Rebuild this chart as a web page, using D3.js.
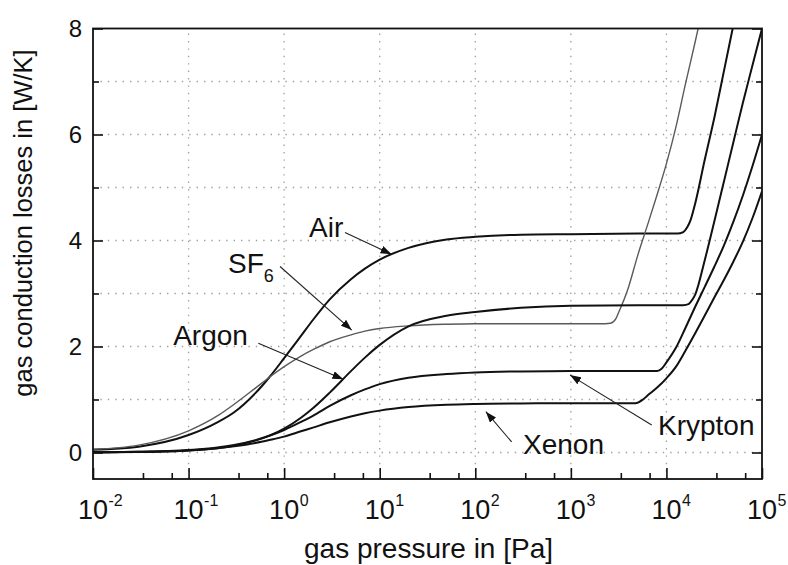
<!DOCTYPE html>
<html>
<head>
<meta charset="utf-8">
<script src="https://cdn.jsdelivr.net/npm/d3@7"></script>
<style>
  body { margin: 0; background: #fff; }
  text { font-family: "Liberation Sans", Arial, Helvetica, sans-serif; fill: #111; }
</style>
</head>
<body>
<svg id="chart" width="788" height="565"></svg>
<script>
// Gas conduction losses [W/K] versus gas pressure [Pa], one curve per fill gas.
// Pressures sampled in the free-molecular / transition range (shared by all gases)
const lowP = [0.01,0.03,0.1,0.2,0.3,0.5,0.7,1,1.5,2,3,5,7,10,20,50,100,300,1000];

const airLow     = [0.05,0.11,0.33,0.57,0.76,1.12,1.42,1.78,2.2,2.5,2.89,3.27,3.47,3.64,3.86,4.02,4.07,4.11,4.12];
const sf6Low     = [0.06,0.14,0.41,0.69,0.91,1.215,1.42,1.62,1.82,1.94,2.09,2.22,2.29,2.34,2.39,2.42,2.43,2.43,2.43];
const argonLow   = [0.003,0.01,0.038,0.082,0.129,0.224,0.317,0.451,0.656,0.835,1.13,1.535,1.79,2.03,2.38,2.58,2.65,2.73,2.77];
const kryptonLow = [0.004,0.012,0.045,0.094,0.143,0.233,0.316,0.425,0.576,0.693,0.88,1.08,1.19,1.29,1.41,1.48,1.51,1.53,1.54];
const xenonLow   = [0.004,0.012,0.04,0.079,0.117,0.18,0.235,0.30,0.40,0.47,0.57,0.68,0.74,0.79,0.857,0.90,0.915,0.925,0.93];

// High-pressure (continuum / convection) branches
const airHighP     = [5000,13000,15000,16500,18000,20000,25000,32000,40000,50000];
const airHighV     = [4.13,4.13,4.16,4.25,4.4,4.7,5.5,6.35,7.2,8.05];
const sf6HighP     = [2000,2600,2950,3160,3980,5010,6310,7940,10000,12600,15800,20000,22400];
const sf6HighV     = [2.43,2.44,2.52,2.64,3.1,3.72,4.28,4.85,5.45,6.15,6.95,7.75,8.15];
const argonHighP   = [5000,15000,17000,18600,20000,25100,31600,39800,50100,63100,79400,100000];
const argonHighV   = [2.78,2.78,2.80,2.88,2.98,3.62,4.35,5.1,5.85,6.6,7.3,8.0];
const kryptonHighP = [5000,8000,8900,10000,12600,15800,20000,25100,31600,39800,50100,63100,79400,100000];
const kryptonHighV = [1.54,1.54,1.58,1.70,1.98,2.35,2.75,3.12,3.5,3.9,4.35,4.85,5.4,6.0];
const xenonHighP   = [4500,5000,5600,6300,7940,10000,12600,15800,20000,25100,31600,39800,50100,63100,79400,100000];
const xenonHighV   = [0.93,0.94,0.99,1.07,1.22,1.40,1.62,1.92,2.25,2.58,2.92,3.25,3.6,3.98,4.42,4.93];

// Axis ticks
const xDecades = [1e-2,1e-1,1e0,1e1,1e2,1e3,1e4,1e5];
const xExponents = [-2,-1,0,1,2,3,4,5];
const xMinor = [];
xDecades.slice(0, -1).forEach(d => { xMinor.push(d * 10 / 3, d * 20 / 3); });
const yMajor = [0,2,4,6,8];
const yMinor = [1,3,5,7];
const yGrid = [0,1,2,3,4,5,6,7];

// Curve labels with arrows, in data units: label anchor, arrow start, arrow tip
const notes = [
  { text: "Air",     sub: null, at: [1.82, 4.07],  from: [4.33, 4.15],  to: [13.3, 3.74] },
  { text: "SF",      sub: "6",  at: [0.259, 3.39], from: [0.906, 3.51], to: [5.09, 2.31] },
  { text: "Argon",   sub: null, at: [0.069, 2.03], from: [0.537, 2.06], to: [4.16, 1.38] },
  { text: "Xenon",   sub: null, at: [316, -0.03],  from: [240, 0.20],   to: [129, 0.77] },
  { text: "Krypton", sub: null, at: [8160, 0.33],  from: [7015, 0.52],  to: [980, 1.46] }
];

const series = [
  { p: lowP.concat(airHighP),     v: airLow.concat(airHighV),         color: "#111",    width: 2.0 },
  { p: lowP.concat(sf6HighP),     v: sf6Low.concat(sf6HighV),         color: "#5a5a5a", width: 1.4 },
  { p: lowP.concat(argonHighP),   v: argonLow.concat(argonHighV),     color: "#111",    width: 2.0 },
  { p: lowP.concat(kryptonHighP), v: kryptonLow.concat(kryptonHighV), color: "#111",    width: 2.0 },
  { p: lowP.concat(xenonHighP),   v: xenonLow.concat(xenonHighV),     color: "#111",    width: 2.0 }
];

const svg = d3.select("#chart");
const L = 93, R = 762, T = 28.5, B = 479;

const x = d3.scaleLog().domain([1e-2, 1e5]).range([L, R]);
const y = d3.scaleLinear().domain([-0.5, 8]).range([B, T]);

const defs = svg.append("defs");
defs.append("clipPath").attr("id", "plot")
  .append("rect").attr("x", L).attr("y", T).attr("width", R - L).attr("height", B - T);
defs.append("marker").attr("id", "head")
  .attr("markerUnits", "userSpaceOnUse")
  .attr("markerWidth", 12).attr("markerHeight", 8)
  .attr("refX", 11).attr("refY", 4).attr("orient", "auto")
  .append("path").attr("d", "M0,0 L11,4 L0,8 Z").attr("fill", "#111");

// Dotted grid
const grid = svg.append("g").attr("stroke", "#9aa39a").attr("stroke-width", 1.3)
  .attr("stroke-dasharray", "1.4,6").attr("fill", "none");
grid.selectAll("line.v").data(xDecades.slice(1, -1)).join("line")
  .attr("x1", d => x(d)).attr("x2", d => x(d)).attr("y1", B).attr("y2", T);
grid.selectAll("line.h").data(yGrid).join("line")
  .attr("x1", L).attr("x2", R).attr("y1", d => y(d)).attr("y2", d => y(d));

// Curves
const line = d3.line().x(d => x(d[0])).y(d => y(d[1])).curve(d3.curveMonotoneX);
const curves = svg.append("g").attr("clip-path", "url(#plot)").attr("fill", "none");
series.forEach(s => {
  curves.append("path")
    .attr("d", line(s.p.map((p, i) => [p, s.v[i]])))
    .attr("stroke", s.color).attr("stroke-width", s.width)
    .attr("stroke-linejoin", "round");
});

// Inward ticks via d3 axes
function styleAxis(g) {
  g.select(".domain").remove();
  g.selectAll(".tick line").attr("stroke", "#111").attr("stroke-width", 1.6);
}
svg.append("g").attr("transform", `translate(0,${B})`)
  .call(d3.axisBottom(x).tickValues(xDecades).tickSize(-11).tickFormat(""))
  .call(styleAxis);
svg.append("g").attr("transform", `translate(0,${B})`)
  .call(d3.axisBottom(x).tickValues(xMinor).tickSize(-6).tickFormat(""))
  .call(styleAxis);

const yAxis = svg.append("g").attr("transform", `translate(${L},0)`)
  .call(d3.axisLeft(y).tickValues(yMajor).tickSize(-10).tickPadding(11).tickFormat(d3.format("d")))
  .call(styleAxis);
yAxis.selectAll(".tick text").attr("font-size", 24).attr("fill", "#111")
  .style("font-family", '"Liberation Sans", Arial, sans-serif');
svg.append("g").attr("transform", `translate(${L},0)`)
  .call(d3.axisLeft(y).tickValues(yMinor).tickSize(-6).tickFormat(""))
  .call(styleAxis);
svg.append("g").attr("transform", `translate(${R},0)`)
  .call(d3.axisRight(y).tickValues(yMajor).tickSize(-10).tickFormat(""))
  .call(styleAxis);
svg.append("g").attr("transform", `translate(${R},0)`)
  .call(d3.axisRight(y).tickValues(yMinor).tickSize(-6).tickFormat(""))
  .call(styleAxis);

// Frame
svg.append("rect").attr("x", L).attr("y", T).attr("width", R - L).attr("height", B - T)
  .attr("fill", "none").attr("stroke", "#111").attr("stroke-width", 1.8);

// Decade labels 10^n
const xl = svg.append("g");
xDecades.forEach((d, i) => {
  const base = xl.append("text").attr("font-size", 27).attr("y", 519).text("10");
  const w = base.node().getComputedTextLength();
  base.attr("x", x(d) - w / 2);
  xl.append("text").attr("font-size", 16).attr("x", x(d) + w / 2 + 0.5).attr("y", 506)
    .text(String(xExponents[i]));
});

// Axis titles
svg.append("text").attr("x", (L + R) / 2 + 1).attr("y", 558).attr("text-anchor", "middle")
  .attr("font-size", 28).text("gas pressure in [Pa]");
svg.append("text").attr("transform", "translate(32,223) rotate(-90)").attr("text-anchor", "middle")
  .attr("font-size", 25.5).text("gas conduction losses in [W/K]");

// Curve labels and arrows
const ann = svg.append("g");
notes.forEach(n => {
  const t = ann.append("text").attr("font-size", 28)
    .attr("x", x(n.at[0])).attr("y", y(n.at[1])).text(n.text);
  if (n.sub) t.append("tspan").attr("font-size", 18).attr("dy", 9).text(n.sub);
  ann.append("line")
    .attr("x1", x(n.from[0])).attr("y1", y(n.from[1]))
    .attr("x2", x(n.to[0])).attr("y2", y(n.to[1]))
    .attr("stroke", "#222").attr("stroke-width", 1.1)
    .attr("marker-end", "url(#head)");
});
</script>
</body>
</html>
